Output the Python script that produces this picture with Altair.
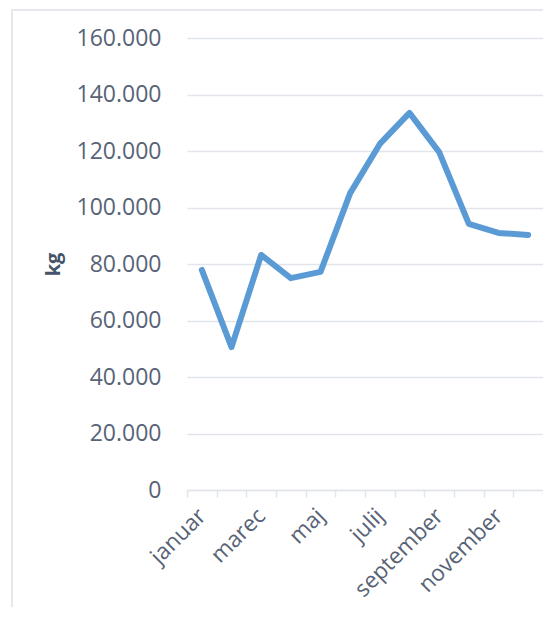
import altair as alt
import pandas as pd

months = ["januar", "februar", "marec", "april", "maj", "junij",
          "julij", "avgust", "september", "oktober", "november", "december"]
values = [77900, 50600, 83200, 75000, 77200, 105100,
          122500, 133500, 119600, 94200, 91000, 90300]
shown_labels = ["januar", "marec", "maj", "julij", "september", "november"]
y_ticks = [0, 20000, 40000, 60000, 80000, 100000, 120000, 140000, 160000]

df = pd.DataFrame({"mesec": months, "kg": values})

FONT = "Open Sans"
LABEL_COLOR = "#586376"
GRID = "#e1e5eb"

label_expr = "indexof(" + str(shown_labels) + ", datum.value) >= 0 ? datum.label : ''"

line = alt.Chart(df).mark_line(
    color="#5B9BD5", strokeWidth=6, strokeCap="round", strokeJoin="round"
).encode(
    x=alt.X("mesec:N", sort=months, title=None,
            axis=alt.Axis(labelAngle=-45, labelAlign="right", labelBaseline="middle",
                          labelExpr=label_expr, tickBand="extent",
                          domainColor=GRID, domainWidth=1.5, tickColor=GRID,
                          tickWidth=1.5, tickSize=7, labelPadding=15,
                          labelFont=FONT, labelFontSize=22.5, labelColor=LABEL_COLOR,
                          grid=False, labelOverlap=False)),
    y=alt.Y("kg:Q", title="kg",
            scale=alt.Scale(domain=[0, 160000], nice=False),
            axis=alt.Axis(values=y_ticks, labelExpr="replace(format(datum.value, ','), ',', '.')",
                          domain=False, ticks=False, labelPadding=26,
                          labelFont=FONT, labelFontSize=23, labelColor=LABEL_COLOR,
                          gridColor=GRID, gridWidth=1.5,
                          titleFont=FONT, titleFontSize=20, titleFontWeight="bold",
                          titleColor="#44546A", titleAngle=-90, titleBaseline="middle",
                          titleAlign="center", titleX=-134, titleY=226))
)

frame_df = pd.DataFrame({"a": [1]})
frame = alt.Chart(frame_df).mark_rect(
    fill=None, stroke="#dde2e9", strokeWidth=1.5
).encode(
    x=alt.value(-175), x2=alt.value(380),
    y=alt.value(-28), y2=alt.value(650)
)

chart = alt.layer(frame, line).properties(
    width=356, height=452,
    autosize=alt.AutoSizeParams(type="none"),
    padding={"left": 179, "top": 30, "right": 0, "bottom": 117},
    background="white"
).configure_view(stroke=None)

chart.save("out.html", embed_options={"renderer": "svg", "actions": False})
